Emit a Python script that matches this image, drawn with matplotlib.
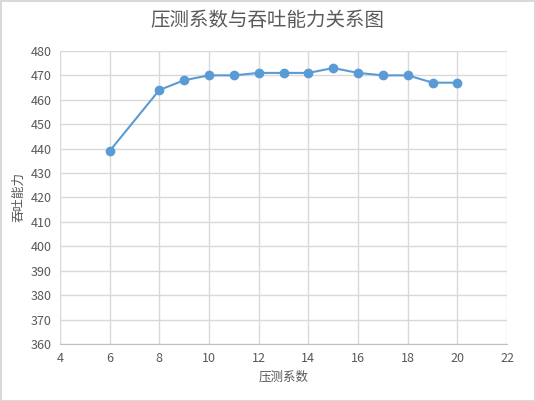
import matplotlib.pyplot as plt
import numpy as np

plt.rcParams['font.family'] = ['Noto Sans CJK SC', 'DejaVu Sans']

# 数据
pressao = [6, 8, 9, 10, 11, 12, 13, 14, 15, 16, 17, 18, 19, 20]
vazao = [439, 464, 468, 470, 470, 471, 471, 471, 473, 471, 470, 470, 467, 467]
xticks = list(range(4, 23, 2))
yticks = list(range(360, 481, 10))

fig = plt.figure(figsize=(5.35, 4.01), dpi=100)
fig.patch.set_edgecolor('#d9d9d9')
fig.patch.set_linewidth(2)
ax = fig.add_axes([0.112, 0.142, 0.836, 0.731])

ax.plot(pressao, vazao, color='#5b9bd5', linewidth=1.5, marker='o',
        markersize=6, markerfacecolor='#5b9bd5', markeredgecolor='#5b9bd5')

ax.set_xlim(4, 22)
ax.set_ylim(360, 480)
ax.set_xticks(xticks)
ax.set_yticks(yticks)
ax.grid(True, color='#d9d9d9', linewidth=1)
ax.set_axisbelow(True)
for s in ['top', 'right', 'left']:
    ax.spines[s].set_visible(False)
ax.spines['bottom'].set_color('#bfbfbf')
ax.tick_params(length=0, labelsize=9, colors='#595959', pad=6)

ax.set_xlabel('压测系数', fontsize=9, color='#595959')
ax.set_ylabel('吞吐能力', fontsize=9, color='#595959')
fig.suptitle('压测系数与吞吐能力关系图', fontsize=14, color='#595959', y=0.975)

fig.savefig('out.png', dpi=100, edgecolor=fig.get_edgecolor())
